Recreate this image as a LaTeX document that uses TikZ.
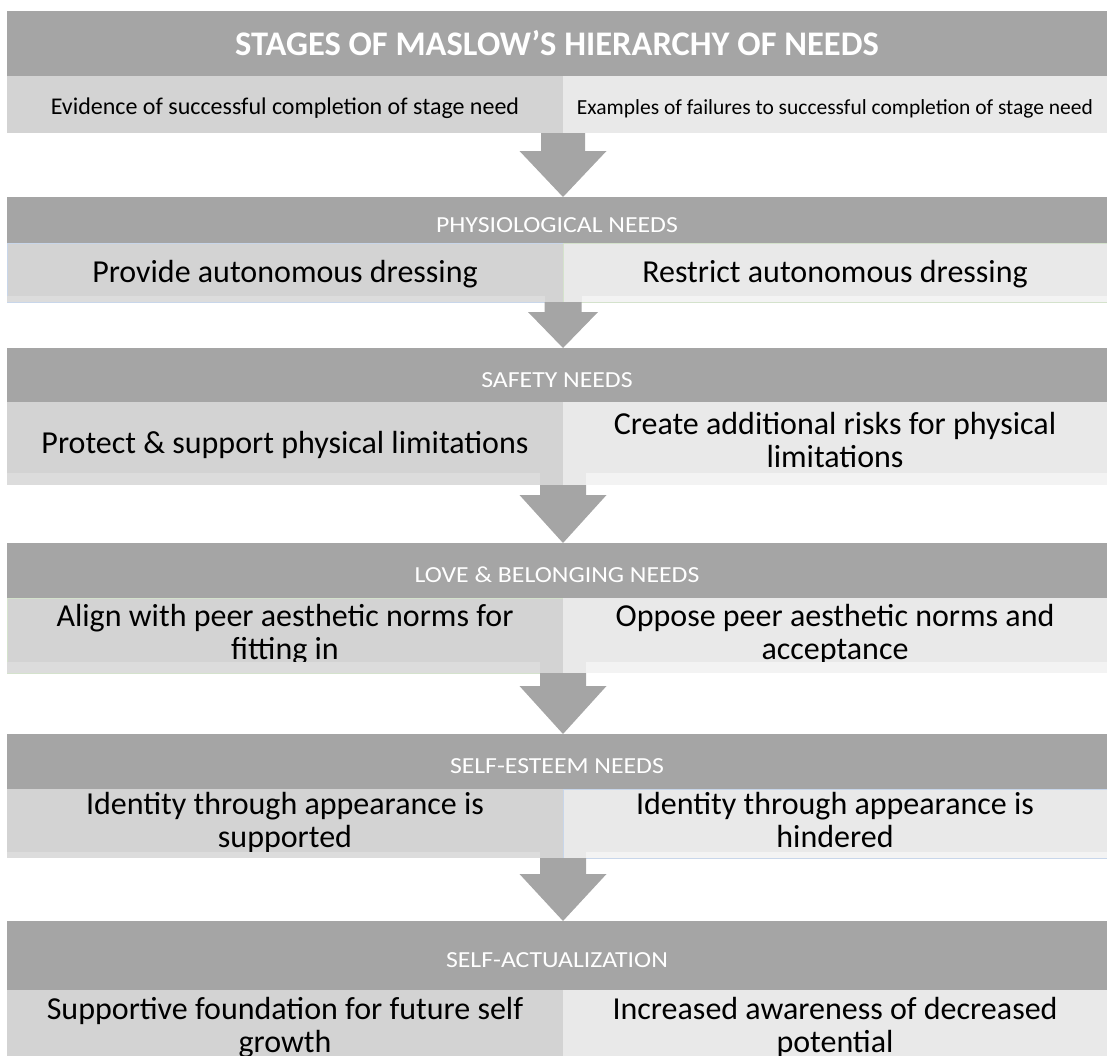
\documentclass[tikz,border=0pt]{standalone}
\usepackage{fontspec}
\setmainfont{Carlito}
\newfontfamily\bandfont[FakeStretch=1.12]{Carlito}
\usetikzlibrary{positioning, calc}

\definecolor{bandgray}{HTML}{A5A5A5}
\definecolor{leftfill}{HTML}{D3D3D3}
\definecolor{rightfill}{HTML}{E9E9E9}
\definecolor{leftstrip}{HTML}{DCDCDC}
\definecolor{rightstrip}{HTML}{F3F3F3}
\definecolor{edgeblue}{HTML}{C8D6EA}
\definecolor{edgegreen}{HTML}{D4E2CC}

% block arrow from a row down to the next stage band
% #1 start point, #2 band node, #3 half shaft, #4 half head, #5 head length
\newcommand{\stagearrow}[5]{%
  \fill[bandgray] ($(#1)+(-#3,0)$) -- ($(#1 |- #2.north)+(-#3,-#5)$) -- ($(#1 |- #2.north)+(-#4,-#5)$)
    -- (#1 |- #2.north) -- ($(#1 |- #2.north)+(#4,-#5)$) -- ($(#1 |- #2.north)+(#3,-#5)$)
    -- ($(#1)+(#3,0)$) -- cycle;}

\newcommand{\rowfont}{\fontsize{32}{33}\selectfont}
% keeps every cell text on the same baseline
\newcommand{\cellstrut}{\rule[-6.8pt]{0pt}{32.8pt}}

\begin{document}
\begin{tikzpicture}[
    x=1pt, y=-1pt,
    band/.style={fill=bandgray, text=white, minimum width=1100pt, outer sep=0pt, inner sep=0pt},
    stage/.style={band, font=\bandfont\fontsize{23}{26}\selectfont, text height=25pt},
    cell/.style={minimum width=#1, outer sep=0pt, inner sep=0pt, align=center, font=\rowfont,
        execute at begin node=\cellstrut, execute at end node=\cellstrut},
    leftcell/.style={cell=556pt, fill=leftfill},
    rightcell/.style={cell=544pt, fill=rightfill}
]
\useasboundingbox (0,0) rectangle (1107,1055);

% TITLE
\node[band, minimum height=65pt, font=\fontsize{34.5}{38}\selectfont\bfseries] (title) at (557,43.5) {STAGES OF MASLOW’S HIERARCHY OF NEEDS};
\node[leftcell, minimum height=57pt, font=\fontsize{24}{26}\selectfont, below right=0pt and 0pt of title.south west] (evidence) {Evidence of successful completion of stage need};
\node[rightcell, minimum height=57pt, font=\fontsize{21.5}{26}\selectfont, right=0pt of evidence] (failures) {Examples of failures to successful completion of stage need};

% STAGE 1: physiological
\node[stage, minimum height=46pt] (physio) at (557,220) {PHYSIOLOGICAL NEEDS};
\node[leftcell, minimum height=59pt, draw=edgeblue, line width=1pt, below right=0pt and 0pt of physio.south west] (physioL) {Provide autonomous dressing};
\node[rightcell, minimum height=59pt, draw=edgegreen, line width=1pt, right=0pt of physioL] (physioR) {Restrict autonomous dressing};

% STAGE 2: safety
\node[stage, minimum height=54pt] (safety) at (557,375) {SAFETY NEEDS};
\node[leftcell, minimum height=83pt, below right=0pt and 0pt of safety.south west] (safetyL) {Protect \& support physical limitations};
\node[rightcell, minimum height=83pt, right=0pt of safetyL] (safetyR) {Create additional risks for physical\\limitations};

% STAGE 3: love & belonging
\node[stage, minimum height=55pt] (love) at (557,570.5) {LOVE \& BELONGING NEEDS};
\node[leftcell, minimum height=75pt, draw=edgegreen, line width=1pt, below right=0pt and 0pt of love.south west] (loveL) {Align with peer aesthetic norms for\\fitting in};
\node[rightcell, minimum height=75pt, right=0pt of loveL] (loveR) {Oppose peer aesthetic norms and\\acceptance};

% STAGE 4: self-esteem
\node[stage, minimum height=55pt] (esteem) at (557,761.5) {SELF-ESTEEM NEEDS};
\node[leftcell, minimum height=69pt, below right=0pt and 0pt of esteem.south west] (esteemL) {Identity through appearance is\\supported};
\node[rightcell, minimum height=69pt, draw=edgeblue, line width=1pt, right=0pt of esteemL] (esteemR) {Identity through appearance is\\hindered};

% STAGE 5: self-actualization
\node[stage, minimum height=69pt] (actual) at (557,955.5) {SELF-ACTUALIZATION};
\node[leftcell, minimum height=76pt, below right=0pt and 0pt of actual.south west] (actualL) {Supportive foundation for future self\\growth};
\node[rightcell, minimum height=76pt, right=0pt of actualL] (actualR) {Increased awareness of decreased\\potential};

% lighter bottom edge of the rows
\foreach \ya/\yb/\xa/\xb in {296/302/545/582, 473/485/540/586, 662/673/540/586, 852/858/540/586} {
  \fill[leftstrip] (7,\ya) rectangle (\xa,\yb);
  \fill[rightstrip] (\xb,\ya) rectangle (1107,\yb);
}

% ARROWS
\stagearrow{evidence.south east}{physio}{22}{43.5}{46}
\stagearrow{physioL.south east}{safety}{18.5}{35}{36}
\stagearrow{safetyL.south east}{love}{23}{43.5}{48}
\stagearrow{loveL.south east}{esteem}{23}{43.5}{48}
\stagearrow{esteemL.south east}{actual}{23}{43.5}{47}

\end{tikzpicture}
\end{document}
